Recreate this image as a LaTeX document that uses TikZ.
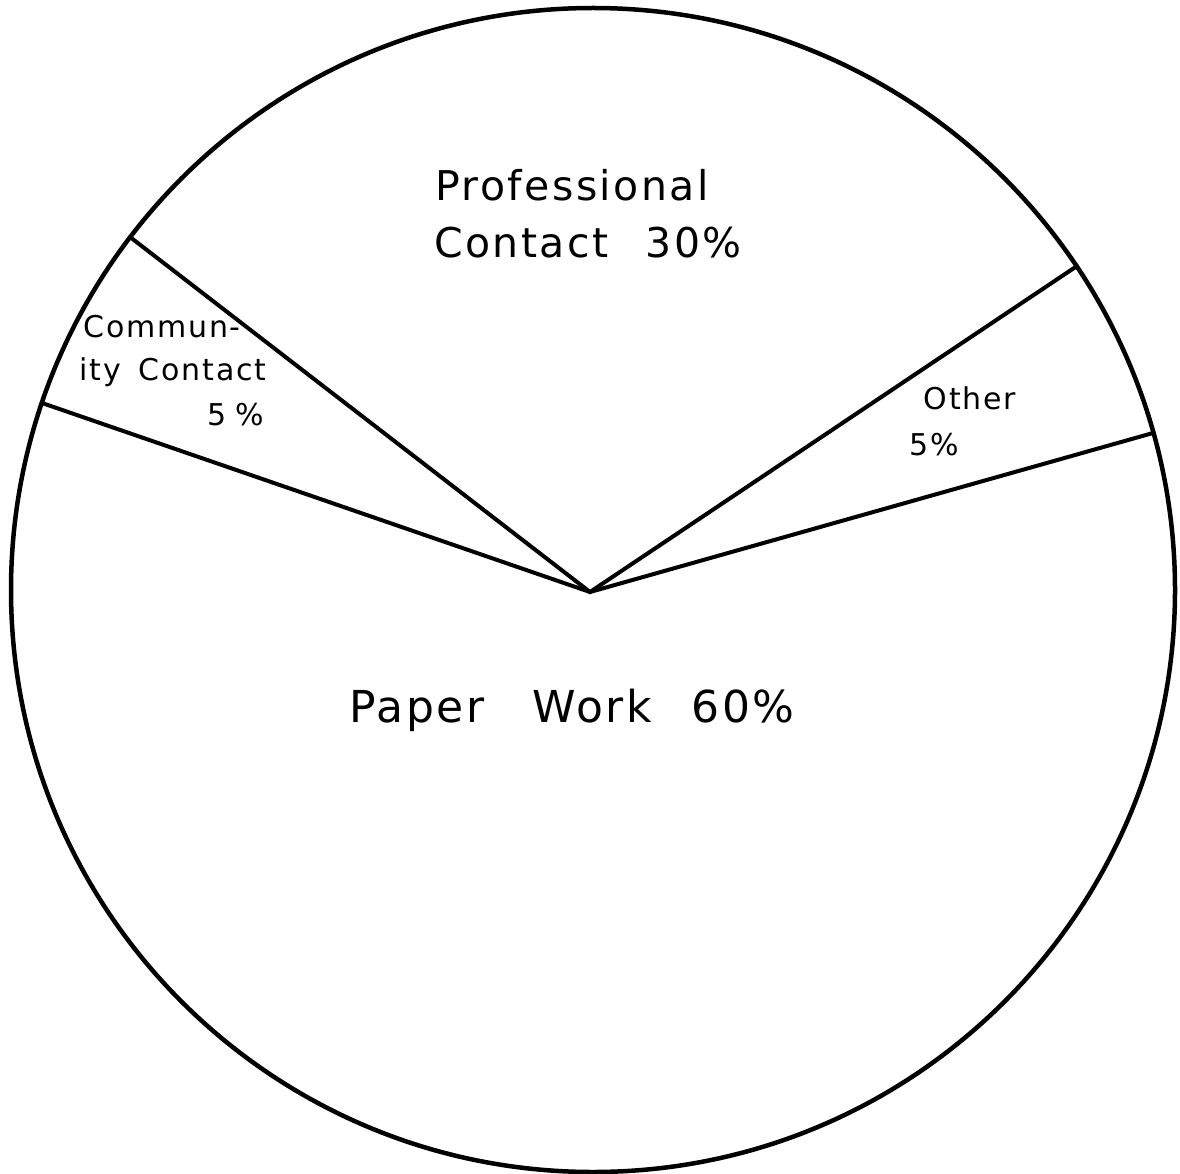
\documentclass[tikz,border=0pt]{standalone}
\usepackage{fontspec}
\newfontfamily\hand[LetterSpace=6]{DejaVu Sans}
\begin{document}
\begin{tikzpicture}[x=1pt, y=-1pt, line width=4pt, line cap=round,
  big/.style={font=\hand\fontsize{41}{48}\selectfont, inner sep=0pt},
  small/.style={font=\hand\fontsize{30}{36}\selectfont, inner sep=0pt}]
\useasboundingbox (0,0) rectangle (1180,1174);
% pie
\coordinate (c) at (593,590);
\coordinate (O) at (590,592);
\coordinate (ul) at (130,237);
\coordinate (l) at (42,403);
\coordinate (ur) at (1077,266);
\coordinate (r) at (1153,433);
\draw [line width=4.5pt] (c) circle[radius=582pt];
\draw (ul) -- (O) -- (ur);
\draw (l) -- (O) -- (r);

% labels
\node [big] (prof) at (572,185) {Professional};
\node [big] (profp) at (588,243) {Contact\hspace{0.9em}30\%};
\node [small] (comm1) at (162,327) {Commun-};
\node [small] (comm2) at (173,372) {ity\hspace{0.6em}Contact};
\node [small] (commp) at (236,415) {5\hspace{0.3em}\%};
\node [small] (oth) at (970,398) {Other};
\node [small] (othp) at (934,445) {5\%};
\node [big, font=\hand\fontsize{44}{50}\selectfont] (paper) at (572,710) {Paper\hspace{1.1em}Work\hspace{0.9em}60\%};
\end{tikzpicture}
\end{document}
